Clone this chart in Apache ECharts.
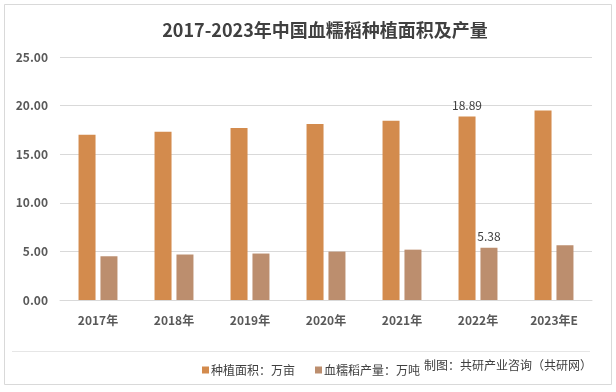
<!DOCTYPE html>
<html>
<head>
<meta charset="utf-8">
<script src="https://cdn.jsdelivr.net/npm/echarts@6/dist/echarts.min.js"></script>
<style>html,body{margin:0;padding:0;background:#fff;}#c{width:616px;height:392px;}</style>
</head>
<body>
<div id="c"></div>
<script>
var categories = ['2017年','2018年','2019年','2020年','2021年','2022年','2023年E'];
var areaValues = [17.0, 17.3, 17.7, 18.1, 18.45, 18.89, 19.49];
var outputValues = [4.5, 4.68, 4.78, 4.98, 5.18, 5.38, 5.62];
var labelIndex = 5;
var yTicks = { min: 0, max: 25, interval: 5 };
var seriesNames = ['种植面积：万亩', '血糯稻产量：万吨'];
var creditText = '制图：共研产业咨询（共研网）';
var titleText = '2017-2023年中国血糯稻种植面积及产量';

var FONT = '"Noto Sans CJK SC", "Noto Sans", sans-serif';
function withLabel(arr){
  return arr.map(function(v,i){
    var o = { value: v };
    if (i === labelIndex) {
      o.label = { show: true, position: 'top', formatter: function(p){ return p.value.toFixed(2); },
        color: '#404040', fontSize: 12, fontFamily: FONT, distance: 5 };
    }
    return o;
  });
}
var chart = echarts.init(document.getElementById('c'), null, { renderer: 'canvas' });
chart.setOption({
  animation: false,
  backgroundColor: '#ffffff',
  title: {
    text: titleText, left: 320, top: 16, textAlign: 'center',
    textStyle: { fontFamily: FONT, fontSize: 18, fontWeight: 'bold', color: '#404040' }
  },
  graphic: [
    { type: 'rect', shape: { x: 4.5, y: 4.5, width: 607, height: 380 }, style: { fill: 'none', stroke: '#d9d9d9', lineWidth: 1 }, z: -1 },
    { type: 'line', shape: { x1: 12, y1: 351.5, x2: 590, y2: 351.5 }, style: { stroke: '#e6e6e6', lineWidth: 1 } },
    { type: 'text', left: 424, top: 359, style: { text: creditText, font: '12px ' + FONT, fill: '#404040' } }
  ],
  legend: {
    data: seriesNames, left: 197, top: 359, itemWidth: 7, itemHeight: 7, itemGap: 20, icon: 'rect',
    textStyle: { fontFamily: FONT, fontSize: 12, color: '#404040', padding: [0,0,0,-3] }
  },
  grid: { left: 60, right: 24, top: 57, bottom: 92 },
  xAxis: {
    type: 'category', data: categories,
    axisLine: { show: true, lineStyle: { color: '#d9d9d9' } },
    axisTick: { show: false },
    axisLabel: { color: '#595959', fontSize: 12, fontFamily: FONT, fontWeight: 'bold', margin: 14 }
  },
  yAxis: {
    type: 'value', min: yTicks.min, max: yTicks.max, interval: yTicks.interval,
    axisLine: { show: false }, axisTick: { show: false },
    axisLabel: { color: '#595959', fontSize: 12, fontFamily: FONT, fontWeight: 'bold', margin: 12, formatter: function(v){ return v.toFixed(2); } },
    splitLine: { lineStyle: { color: '#d9d9d9' } }
  },
  series: [
    { name: seriesNames[0], type: 'bar', data: withLabel(areaValues), barWidth: 17, barGap: '29%', itemStyle: { color: '#D38B4D' } },
    { name: seriesNames[1], type: 'bar', data: withLabel(outputValues), barWidth: 17, itemStyle: { color: '#BC8E6E' } }
  ]
});
</script>
</body>
</html>
